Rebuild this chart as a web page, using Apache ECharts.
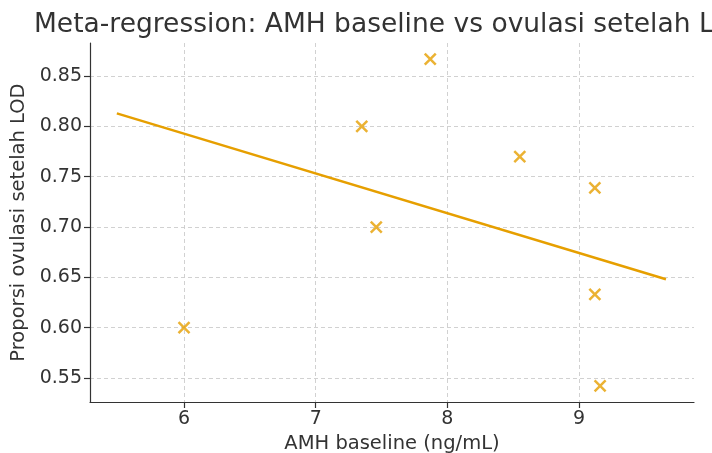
<!DOCTYPE html>
<html>
<head>
<meta charset="utf-8">
<script src="https://cdn.jsdelivr.net/npm/echarts@6/dist/echarts.min.js"></script>
<style>
  html, body { margin: 0; padding: 0; background: #fff; }
  #chart { width: 712px; height: 453px; }
</style>
</head>
<body>
<div id="chart"></div>
<script>
// studies: AMH baseline vs proportion ovulating after LOD
const amh = [6.0, 7.35, 7.46, 7.87, 8.55, 9.12, 9.12, 9.16]
const ovulasi = [0.600, 0.800, 0.700, 0.867, 0.770, 0.739, 0.633, 0.542]
// fitted regression line (end points)
const fitX = [5.49, 9.66]
const fitY = [0.813, 0.648]
const xTicks = [6, 7, 8, 9]
const yTicks = [0.55, 0.60, 0.65, 0.70, 0.75, 0.80, 0.85]

const orange = '#E69F00'
const font = 'DejaVu Sans'
const gridLine = {show: true, lineStyle: {color: '#cccccc', type: [4, 3], width: 0.9}}

const chart = echarts.init(document.getElementById('chart'))
const option = {
  animation: false,
  textStyle: {fontFamily: font},
  title: {
    text: 'Meta-regression: AMH baseline vs ovulasi setelah LOD',
    left: 29,
    top: 7,
    textStyle: {fontFamily: font, fontSize: 26.5, fontWeight: 'normal', color: '#333'}
  },
  grid: {left: 90, right: 18, top: 43, bottom: 51, containLabel: false, outerBoundsMode: 'none'},
  xAxis: {
    type: 'value',
    min: 5.286,
    max: 9.873,
    minInterval: 1,
    maxInterval: 1,
    name: 'AMH baseline (ng/mL)',
    nameLocation: 'middle',
    nameGap: 26,
    nameTextStyle: {fontFamily: font, fontSize: 19.5, color: '#333'},
    axisLine: {show: true, lineStyle: {color: '#333', width: 1.2}},
    axisTick: {show: true, length: 6, customValues: xTicks, lineStyle: {color: '#333', width: 1.2}},
    axisLabel: {customValues: xTicks, fontFamily: font, fontSize: 19, color: '#333', margin: 8},
    splitLine: gridLine
  },
  yAxis: {
    type: 'value',
    min: 0.526,
    max: 0.883,
    minInterval: 0.05,
    maxInterval: 0.05,
    name: 'Proporsi ovulasi setelah LOD',
    nameLocation: 'middle',
    nameGap: 58,
    nameTextStyle: {fontFamily: font, fontSize: 19.5, color: '#333'},
    axisLine: {show: true, lineStyle: {color: '#333', width: 1.2}},
    axisTick: {show: true, length: 6, customValues: yTicks, lineStyle: {color: '#333', width: 1.2}},
    axisLabel: {
      customValues: yTicks,
      fontFamily: font, fontSize: 19, color: '#333', margin: 8,
      formatter: v => v.toFixed(2)
    },
    splitLine: gridLine
  },
  series: [
    {
      type: 'line',
      data: fitX.map((x, i) => [x, fitY[i]]),
      showSymbol: false,
      lineStyle: {color: orange, width: 2.5},
      z: 2
    },
    {
      type: 'scatter',
      data: amh.map((x, i) => [x, ovulasi[i]]),
      symbol: 'path://M0,0L10,10M10,0L0,10',
      symbolSize: 11,
      itemStyle: {color: 'transparent', borderColor: orange, borderWidth: 2.5},
      z: 3
    }
  ]
}
chart.setOption(option)
</script>
</body>
</html>
